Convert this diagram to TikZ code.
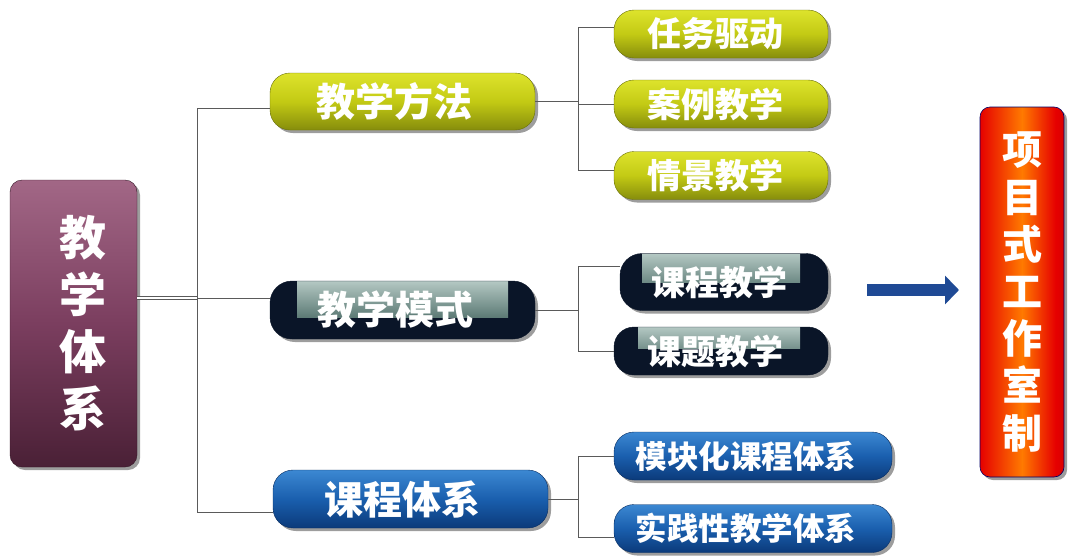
\documentclass[tikz,border=0pt]{standalone}
\usepackage{fontspec}
\newfontfamily\cjk{Noto Sans CJK SC}
\usetikzlibrary{shadows,arrows.meta}
\definecolor{lineg}{HTML}{5A5A5A}
\definecolor{purT}{HTML}{A26786}
\definecolor{purM}{HTML}{7B3E5F}
\definecolor{purB}{HTML}{4A2036}
\definecolor{olT}{HTML}{DDE32C}
\definecolor{olM}{HTML}{C3CA14}
\definecolor{olB}{HTML}{868D0C}
\definecolor{blT}{HTML}{3C88D2}
\definecolor{blM}{HTML}{1A5FAE}
\definecolor{blB}{HTML}{0B3A7A}
\definecolor{navy}{HTML}{0A1528}
\definecolor{tealT}{HTML}{B4C8C3}
\definecolor{tealM}{HTML}{3F6963}
\definecolor{tealB}{HTML}{284C47}
\definecolor{arrowb}{HTML}{1F4A95}
\definecolor{dred}{HTML}{6E0000}
\definecolor{rred}{HTML}{E60000}
\definecolor{oorange}{HTML}{FF7A00}
\pgfdeclarehorizontalshading{redorange}{100bp}{color(0bp)=(dred); color(25bp)=(rred); color(50bp)=(oorange); color(70bp)=(rred); color(90bp)=(rred!80!black); color(100bp)=(dred)}
\tikzset{
  conn/.style={draw=lineg, line width=0.8pt},
  boxbase/.style={text=white, font=\cjk\bfseries, inner sep=0pt, align=center,
    drop shadow={shadow xshift=3pt, shadow yshift=-3pt, fill=black!55, opacity=0.7}},
  tleft/.style={execute at begin node={\hspace*{-#1}}},
  tealshade/.style={sharp corners, top color=tealT, middle color=tealM, bottom color=tealB},
  rootbox/.style={boxbase, rounded corners=12pt, minimum width=127pt, minimum height=287pt,
    top color=purT, bottom color=purB, middle color=purM, draw=purB!70!black, line width=0.4pt},
  olivebox/.style={boxbase, rounded corners=20pt, top color=olT, bottom color=olB, middle color=olM,
    draw=olB!80!black, line width=0.4pt},
  bluebox/.style={boxbase, rounded corners=20pt, top color=blT, bottom color=blB, middle color=blM,
    draw=blB!80!black, line width=0.4pt},
  navybox/.style={boxbase, rounded corners=22pt, fill=navy, draw=navy},
  redbox/.style={boxbase, rounded corners=10pt, minimum width=84pt, minimum height=370pt,
    shading=redorange, draw=blue!40!black, line width=0.6pt},
}
\begin{document}
\begin{tikzpicture}[x=1pt,y=-1pt]
\useasboundingbox (0,0) rectangle (1080,560);
% root
\node[rootbox, font=\cjk\bfseries\fontsize{47}{57}\selectfont] (root) at (73.5,323.5)
  {\hspace*{20pt}教\\\hspace*{20pt}学\\\hspace*{20pt}体\\\hspace*{20pt}系};
% level 1
\node[olivebox, tleft=16pt, minimum width=265pt, minimum height=57pt, font=\cjk\bfseries\fontsize{39}{40}\selectfont] (fa) at (402.5,101.5) {教学方法};
\node[navybox, tleft=14pt, minimum width=265pt, minimum height=58pt, font=\cjk\bfseries\fontsize{39}{40}\selectfont,
  path picture={\shade[tealshade]
    ([xshift=27pt]path picture bounding box.north west) rectangle ([xshift=-27pt,yshift=-36pt]path picture bounding box.north east);}] (mo) at (402.5,310) {\raisebox{-6pt}{教学模式}};
\node[bluebox, tleft=16pt, minimum width=275pt, minimum height=58pt, font=\cjk\bfseries\fontsize{39}{40}\selectfont] (ke) at (410.5,499) {课程体系};
% level 2
\node[olivebox, tleft=12pt, minimum width=214pt, minimum height=48pt, font=\cjk\bfseries\fontsize{34}{36}\selectfont] (a1) at (721,34) {任务驱动};
\node[olivebox, tleft=12pt, minimum width=214pt, minimum height=48pt, font=\cjk\bfseries\fontsize{34}{36}\selectfont] (a2) at (721,104) {案例教学};
\node[olivebox, tleft=12pt, minimum width=214pt, minimum height=48pt, font=\cjk\bfseries\fontsize{34}{36}\selectfont] (a3) at (721,175.5) {情景教学};
\node[navybox, tleft=10pt, minimum width=208pt, minimum height=57pt, font=\cjk\bfseries\fontsize{34}{36}\selectfont,
  path picture={\shade[tealshade]
    ([xshift=22pt]path picture bounding box.north west) rectangle ([xshift=-28pt,yshift=-29pt]path picture bounding box.north east);}] (b1) at (724,282) {\raisebox{-6pt}{课程教学}};
\node[navybox, tleft=12pt, rounded corners=20pt, minimum width=214pt, minimum height=48pt, font=\cjk\bfseries\fontsize{34}{36}\selectfont,
  path picture={\shade[tealshade]
    ([xshift=24pt]path picture bounding box.north west) rectangle ([xshift=-28pt,yshift=-21pt]path picture bounding box.north east);}] (b2) at (721,351) {课题教学};
\node[bluebox, tleft=14pt, minimum width=278pt, minimum height=48pt, font=\cjk\bfseries\fontsize{31.5}{34}\selectfont] (c1) at (753,456) {模块化课程体系};
\node[bluebox, tleft=14pt, minimum width=278pt, minimum height=48pt, font=\cjk\bfseries\fontsize{31.5}{34}\selectfont] (c2) at (753,528.5) {实践性教学体系};
% result box
\node[redbox, font=\cjk\bfseries\fontsize{40}{47.2}\selectfont] (res) at (1022,292) {项\\目\\式\\工\\作\\室\\制};
% connectors root -> level 1
\coordinate (r) at (197,298);
\draw[conn, double=white, double distance=2.5pt, line width=0.6pt] (root.east |- r) -- (r);
\draw[conn] (r) |- ([yshift=-6.5pt]fa.west);
\draw[conn] (r) |- ([yshift=-13pt]ke.west);
\draw[conn] (r) -- (mo.west |- r);
% level 1 -> level 2
\coordinate (ja) at (578,103);
\draw[conn] (fa.east) -- (ja |- fa.east);
\draw[conn] (ja |- fa.east) |- ([yshift=7pt]a1.west);
\draw[conn] (ja |- fa.east) |- (a2.west);
\draw[conn] (ja |- fa.east) |- ([yshift=5.5pt]a3.west);
\coordinate (jb) at (578,310);
\draw[conn] (mo.east) -- (jb |- mo.east);
\draw[conn] (jb |- mo.east) |- ([yshift=16pt]b1.west);
\draw[conn] (jb |- mo.east) |- (b2.west);
\coordinate (jc) at (578,499);
\draw[conn] (ke.east) -- (jc |- ke.east);
\draw[conn] (jc |- ke.east) |- (c1.west);
\draw[conn] (jc |- ke.east) |- ([yshift=-8.5pt]c2.west);
% block arrow
\coordinate (as) at (867,290);
\coordinate (ae) at (959,290);
\draw[arrowb, line width=12pt, -{Triangle[width=28pt,length=14pt]}] (as) -- (ae);
\end{tikzpicture}
\end{document}
